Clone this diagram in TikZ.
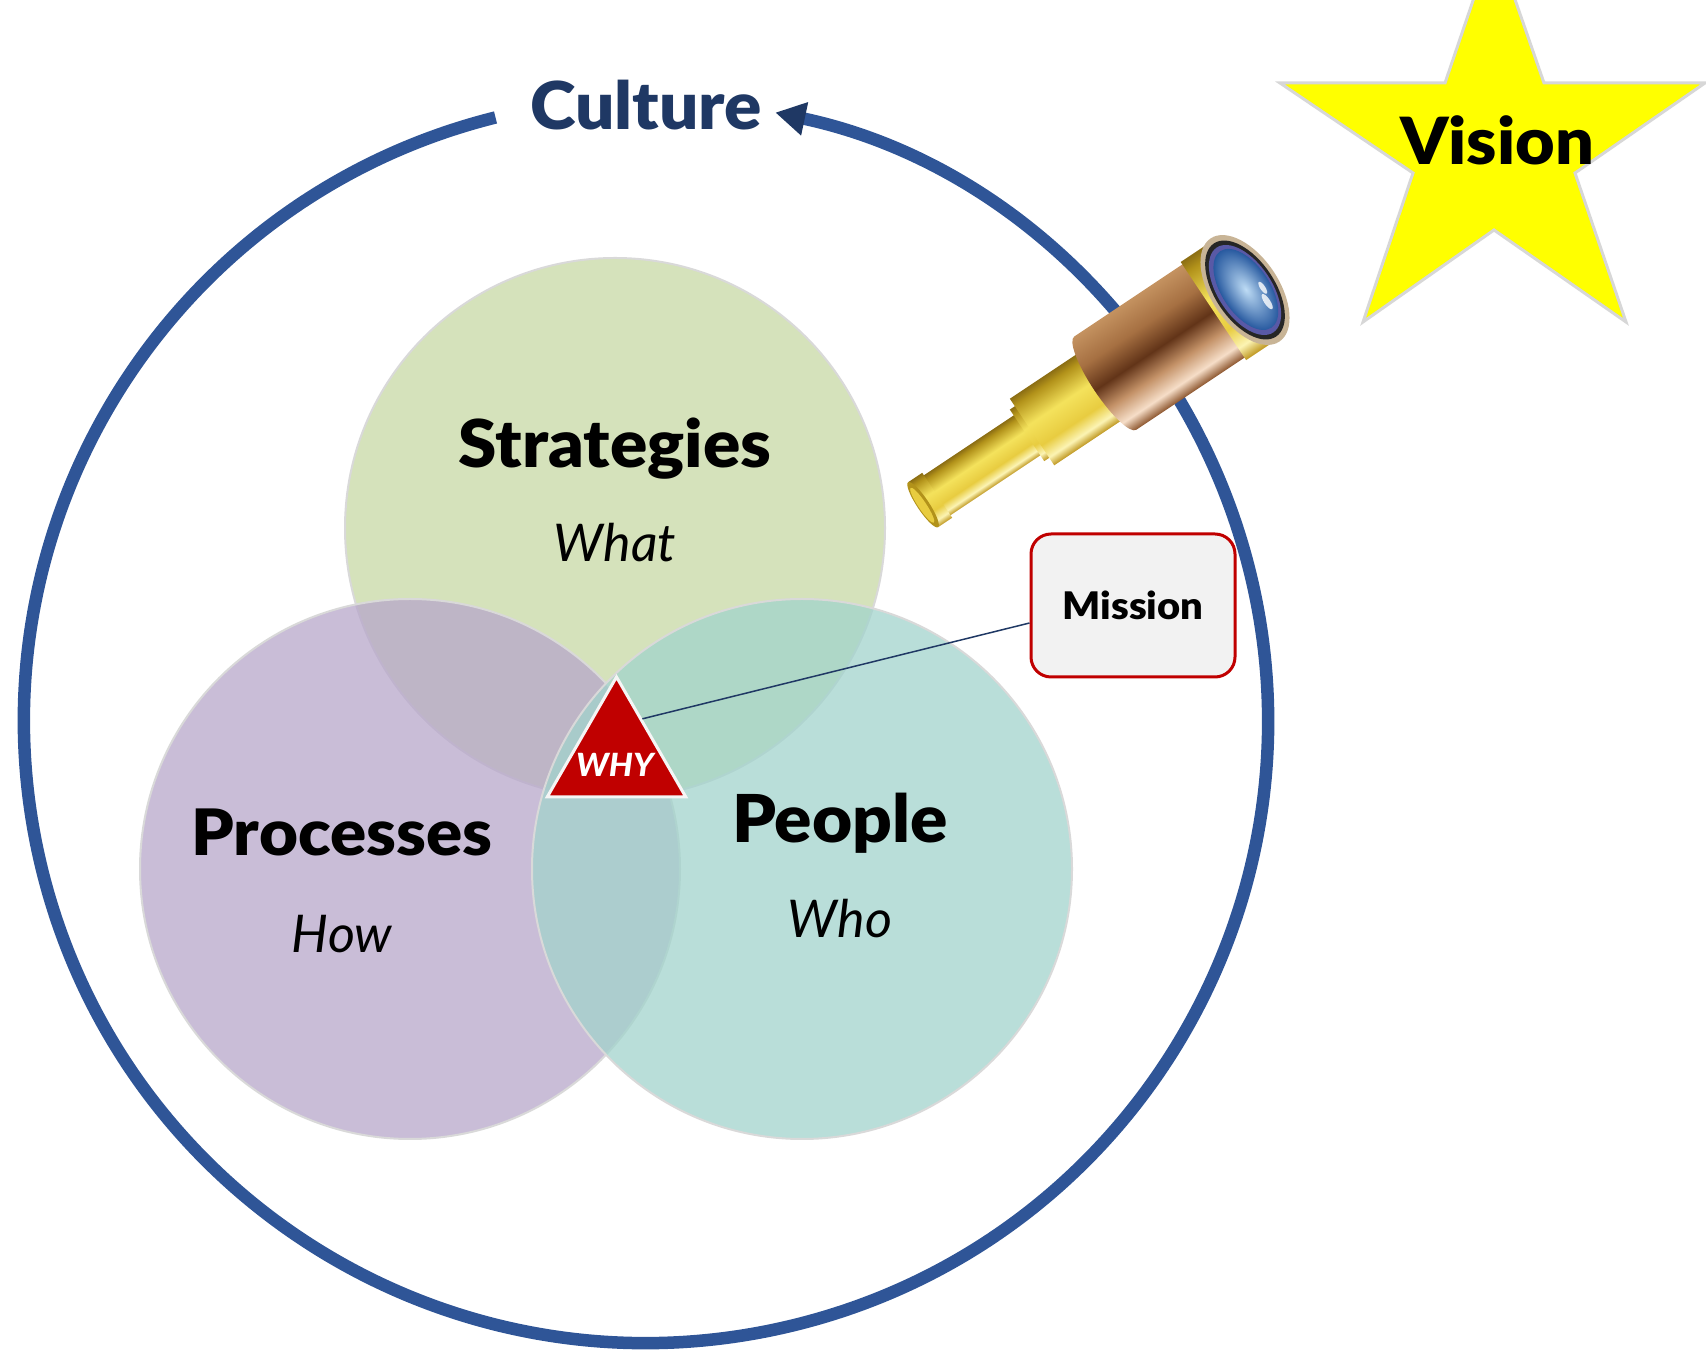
\documentclass[tikz,border=0pt]{standalone}
\usepackage{fontspec}
\setmainfont{Lato}
\newfontfamily\heavyfont{Lato Black}[FakeStretch=1.05]
\usetikzlibrary{shapes.geometric,arrows.meta,calc}

\definecolor{ringblue}{RGB}{47,85,151}
\definecolor{navy}{RGB}{31,56,100}
\definecolor{stratgreen}{RGB}{199,216,164}
\definecolor{procpurple}{RGB}{183,167,202}
\definecolor{peopleteal}{RGB}{162,211,204}
\definecolor{venngray}{RGB}{217,217,217}
\definecolor{whyred}{RGB}{192,0,0}
\definecolor{missiongray}{RGB}{242,242,242}
\definecolor{staryellow}{RGB}{255,255,0}
\definecolor{starrim}{RGB}{215,215,215}

% brass and leather tones of the spyglass
\definecolor{goldE}{RGB}{190,150,30}
\definecolor{goldHi}{RGB}{252,244,180}
\definecolor{goldB}{RGB}{232,204,64}
\definecolor{goldM}{RGB}{244,226,92}
\definecolor{goldD}{RGB}{178,146,26}
\definecolor{goldD2}{RGB}{140,110,20}
\definecolor{brownE}{RGB}{140,85,45}
\definecolor{brownHi}{RGB}{246,222,200}
\definecolor{brownB}{RGB}{196,146,104}
\definecolor{brownM}{RGB}{98,52,24}
\definecolor{brownT}{RGB}{166,112,66}
\definecolor{brownT2}{RGB}{196,146,96}
\definecolor{rimtan}{RGB}{200,180,150}
\definecolor{lensIn}{RGB}{190,220,245}
\definecolor{lensOut}{RGB}{40,90,160}

\pgfdeclareverticalshading{goldtube}{100bp}{color(0bp)=(goldE); color(25bp)=(goldE); color(31bp)=(goldHi); color(40bp)=(goldB); color(55bp)=(goldM); color(70bp)=(goldD); color(75bp)=(goldD2); color(100bp)=(goldD2)}
\pgfdeclareverticalshading{browntube}{100bp}{color(0bp)=(brownE); color(25bp)=(brownE); color(31bp)=(brownHi); color(40bp)=(brownB); color(50bp)=(brownM); color(62bp)=(brownT); color(75bp)=(brownT2); color(100bp)=(brownT2)}

\begin{document}
\begin{tikzpicture}[x=1pt,y=1pt,
  ring/.style={draw=ringblue, line width=12.5pt,
    -{Triangle[length=30pt,width=32pt,fill=navy,color=navy]}},
  venn/.style={circle, minimum size=540pt, inner sep=0pt,
    fill opacity=0.75, draw=venngray, line width=2pt},
  heading/.style={font=\fontsize{66}{70}\selectfont\heavyfont, text=black, inner sep=0pt},
  subhead/.style={font=\fontsize{52}{60}\selectfont\itshape, text=black, inner sep=0pt},
  whybox/.style={regular polygon, regular polygon sides=3, minimum size=160pt,
    inner sep=0pt, fill=whyred, draw=white!92!gray, line width=3pt},
  missionbox/.style={rectangle, rounded corners=20pt, minimum width=204pt,
    minimum height=143pt, draw=whyred, line width=3pt, fill=missiongray,
    font=\fontsize{38}{44}\selectfont\heavyfont, inner sep=0pt},
  gold/.style={shading=goldtube},
  leather/.style={shading=browntube}]
\useasboundingbox (0,0) rectangle (1706,1350);
\begin{scope}
\clip (0,0) rectangle (1706,1350);

% outer culture ring with its arrow
\coordinate (hub) at (646,629);
\draw[ring] ($(hub)+(104:622pt)$) arc[start angle=104, end angle=438, radius=622pt];
\node[heading, text=navy, anchor=base, font=\fontsize{66}{70}\selectfont\heavyfont] (culture) at (646,1220) {Culture};

% three overlapping circles
\node[venn, fill=stratgreen] (strategies) at (615,822) {};
\node[venn, fill=procpurple] (processes) at (410,481) {};
\node[venn, fill=peopleteal] (people) at (802,481) {};

\node[heading, anchor=base] (strategiesT) at (615,882) {Strategies};
\node[subhead, anchor=base] (what) at (615,788) {What};
\node[heading, anchor=base, font=\fontsize{64}{70}\selectfont\heavyfont] (processesT) at (342,494) {Processes};
\node[subhead, anchor=base] (how) at (342,397) {How};
\node[heading, anchor=base] (peopleT) at (840,507) {People};
\node[subhead, anchor=base] (who) at (840,412) {Who};

% the why triangle and the mission callout
\node[whybox] (why) at (616.5,593) {};
\node[anchor=base, text=white, inner sep=0pt, font=\fontsize{32}{34}\selectfont\heavyfont\itshape] (whyT) at (615,573) {WHY};
\node[missionbox] (mission) at (1133,744.5) {Mission};
\draw[navy, line width=1.5pt] ($(why.corner 1)!0.36!(why.corner 3)$) -- ($(mission.south west)!0.38!(mission.north west)$);

% spyglass, drawn along its own axis
\begin{scope}[transform canvas={shift={(1245pt,1060pt)}, rotate=33.7}]
  \shade[gold] (-380,-24) rectangle (-252,24);
  \shade[gold] (-387,-27) rectangle (-370,27);
  \fill[goldD] (-387,0) ellipse [x radius=6pt, y radius=27pt];
  \fill[goldB] (-388,0) ellipse [x radius=4pt, y radius=21pt];
  \shade[gold] (-262,-31) rectangle (-252,31);
  \shade[gold] (-256,-40) rectangle (-160,40);
  \shade[leather] (-168,56) arc[start angle=90, end angle=270, x radius=13pt, y radius=56pt]
     -- (-20,-56) -- (-20,56) -- cycle;
  \shade[gold] (-38,-59) rectangle (-6,59);
  \fill[rimtan] (0,0) ellipse [x radius=34pt, y radius=62pt];
  \fill[black!85] (0,0) ellipse [x radius=30pt, y radius=56pt];
  \fill[gray!70!blue] (0,0) ellipse [x radius=27pt, y radius=51pt];
  \shade[inner color=lensIn, outer color=lensOut] (1,0) ellipse [x radius=24pt, y radius=46pt];
  \fill[white, opacity=0.8] (12,-22) ellipse [x radius=3pt, y radius=9pt];
  \fill[white, opacity=0.8] (16,-8) ellipse [x radius=2.5pt, y radius=7pt];
\end{scope}

% vision star
\draw[fill=staryellow, draw=starrim, line width=3pt]
  (1494,1411) -- (1544,1267) -- (1705,1267) -- (1575,1177) -- (1626,1028)
  -- (1494,1120) -- (1363,1028) -- (1413,1177) -- (1280,1267) -- (1445,1267) -- cycle;
\node[heading, anchor=base, font=\fontsize{65}{70}\selectfont\heavyfont] (vision) at (1497,1185) {Vision};
\end{scope}
\end{tikzpicture}
\end{document}
